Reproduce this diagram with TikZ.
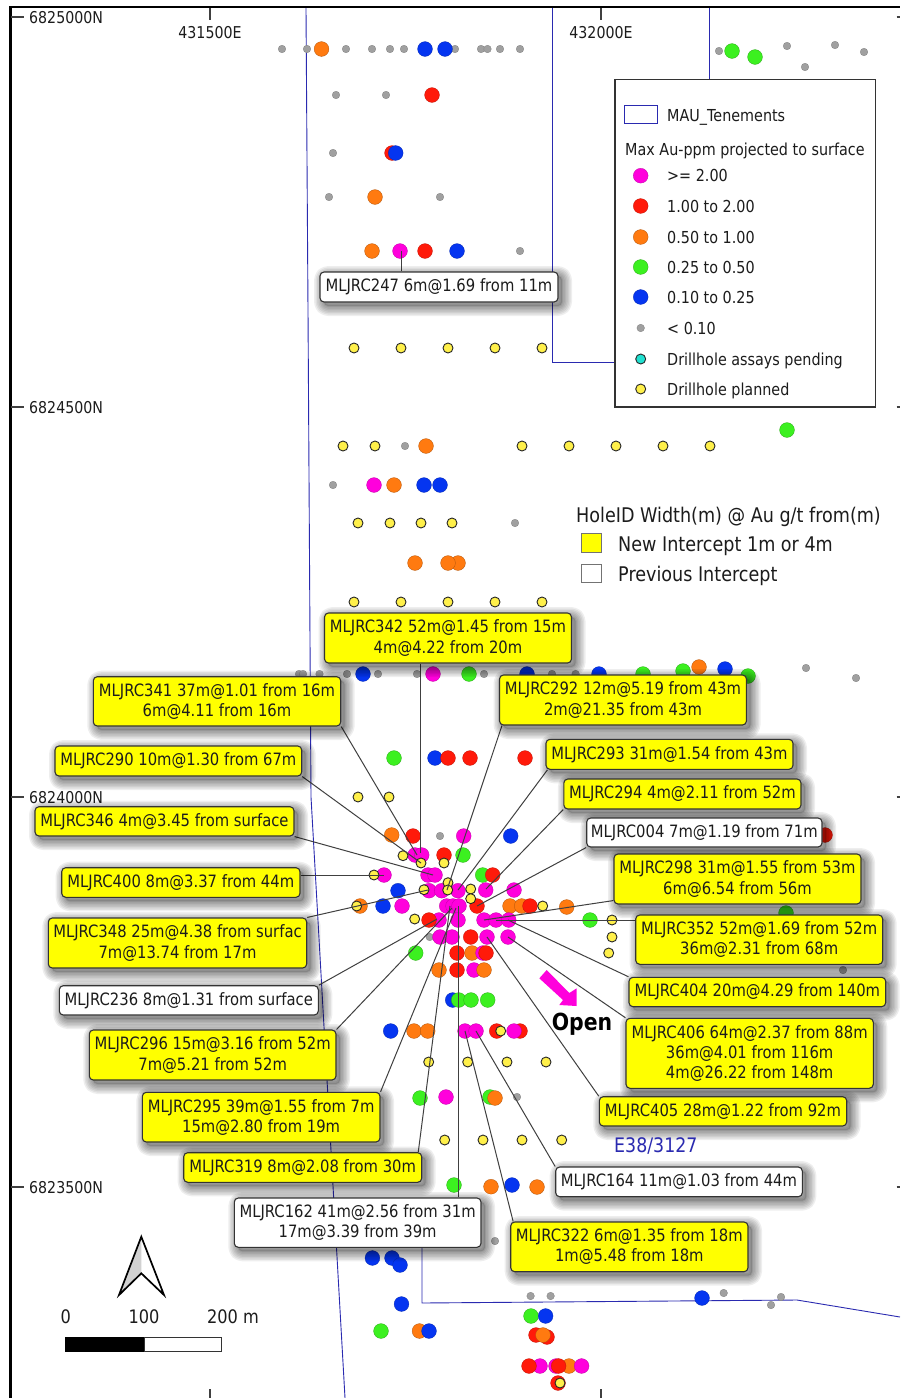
\documentclass[tikz,border=0pt]{standalone}
\usepackage{fontspec}
\setmainfont[FakeStretch=0.87]{DejaVu Sans}
\usetikzlibrary{calc}
\definecolor{cM}{HTML}{FF00DC}
\definecolor{cR}{HTML}{FF1A0A}
\definecolor{cO}{HTML}{FF7A10}
\definecolor{cG}{HTML}{3CF020}
\definecolor{cB}{HTML}{0535F0}
\definecolor{cX}{HTML}{A0A0A0}
\definecolor{cY}{HTML}{FFF04A}
\definecolor{cC}{HTML}{20E0D0}
\definecolor{labY}{HTML}{FFFF00}
\definecolor{tenem}{HTML}{2A2AB0}
\definecolor{ink}{HTML}{1C1C1C}
\pgfdeclarelayer{lab}
\pgfdeclarelayer{over}
\pgfsetlayers{main,lab,over}
\tikzset{
 dM/.style={fill=cM,draw=cM!75!black,line width=.3pt,radius=7.4},
 dR/.style={fill=cR,draw=cR!75!black,line width=.3pt,radius=7.4},
 dO/.style={fill=cO,draw=cO!70!black,line width=.3pt,radius=7.4},
 dG/.style={fill=cG,draw=cG!70!black,line width=.3pt,radius=7.4},
 dB/.style={fill=cB,draw=cB!75!black,line width=.3pt,radius=7.4},
 dX/.style={fill=cX,draw=black!50,line width=.3pt,radius=3.8},
 dY/.style={fill=cY,draw=black!85,line width=.9pt,radius=5},
 dC/.style={fill=cC,draw=black!85,line width=.9pt,radius=5},
 tenline/.style={draw=tenem,line width=.9pt},
 leader/.style={draw=black!75,line width=1pt},
 txt/.style={inner sep=0pt,text=ink,text height=12pt,text depth=0pt,font=\fontsize{16.5}{18}\selectfont},
 coordtxt/.style={txt,font=\fontsize{16.3}{18}\selectfont},
 bigtxt/.style={txt,text height=14.5pt,font=\fontsize{20.2}{22}\selectfont},
 scaletxt/.style={txt,text height=13.5pt,font=\fontsize{18.6}{20}\selectfont},
 tick/.style={draw=black!75,line width=1.3pt},
 frameline/.style={draw=black,line width=2.6pt},
 labbox/.style={draw=black!80,line width=1.1pt,rounded corners=4pt,inner sep=0pt,align=center,text=ink,
   font=\fontsize{17}{20.2}\selectfont},
}
\newcommand{\lab}[7]{%
 \foreach \w in {2,5,8,11,14,17,20}{%
  \draw[black,draw opacity=.065,line width=\w pt,rounded corners=4pt,line join=round]
    (#2+4,#3+4) rectangle (#4+4,#5+4);}
 \fill[black,opacity=.14,rounded corners=4pt] (#2+4,#3+4) rectangle (#4+4,#5+4);
 \pgfmathsetmacro\labw{#4-#2}\pgfmathsetmacro\labh{#5-#3}
 \node[labbox,fill=#6,minimum width=\labw pt,minimum height=\labh pt] (#1) at ({(#2+#4)/2},{(#3+#5)/2}) {#7};
}
\begin{document}
\begin{tikzpicture}[x=1pt,y=-1pt]
\path[use as bounding box,fill=white] (0,0) rectangle (900,1398);
% tenement boundaries
\draw[tenline] (306,8) -- (308,310) -- (310,640) -- (311,797) -- (345,1398);
\draw[tenline] (552,8) -- (552,362) -- (620,362);
\draw[tenline] (709,8) -- (709,85);
\draw[tenline] (422,1240) -- (422,1303) -- (797,1300) -- (900,1317);
% frame & ticks
\draw[frameline] (10.5,1398) -- (10.5,7) -- (900,7);
\foreach \y in {17,407,797,1187}{\draw[tick] (11,\y) -- (24,\y); \draw[tick] (896.5,\y) -- (900,\y);}
\foreach \x in {210,601}{\draw[tick] (\x,8) -- (\x,20); \draw[tick] (\x,1389) -- (\x,1398);}
\node[coordtxt,anchor=west] (n1) at (29,17) {6825000N};
\node[coordtxt,anchor=west] (n2) at (29,407) {6824500N};
\node[coordtxt,anchor=west] (n3) at (29,797) {6824000N};
\node[coordtxt,anchor=west] (n4) at (29,1187) {6823500N};
\node[coordtxt] (e1) at (210,32) {431500E};
\node[coordtxt] (e2) at (601,32) {432000E};
% dots
\foreach \c/\x/\y in {
dX/282/49,dX/307/49,dO/321.5/49,dX/346/49,dX/372/49,dX/390/49,dX/404/49,dX/455/49,dB/425/49,dB/445/49,dX/481/49,dX/487.5/49,dX/500/49,dX/520/49,
dX/336/95,dX/386/95,dR/432/95,
dX/333/153,dR/392/153,dB/395.7/153,
dX/329/197,dO/375/197,dX/440/197,
dO/372/251,dM/400/251,dR/425/251,dB/457/251,dX/520/251,
dX/719/51,dG/732/51,dG/755/57,dX/787/46,dX/835/45,dX/805/67,dX/864/52,
dG/787/430,dX/405/446,dO/426/446,
dX/333/485,dM/374/485,dO/394/485,dB/424/485,dB/440/485,dX/515/523,
dO/415/563,dO/458/563,dO/448/563,
dX/299/674,dX/303/674,dX/319.5/674,dX/347/674,dB/363/674,dX/378/674,dX/417/674,dM/433/674,dG/469/674,dX/484/674,dB/527/674,dX/552/674,dX/575.6/674,dB/599/674,dG/643/674,dG/683/671,dO/699/667,dB/725/669,dG/748/676,dX/806/668,dX/856/678,
dG/394/758,dB/435/758,dR/448/758,dR/470/758,dR/525/758,
dO/391.7/835,dR/413/836,dX/440/836,dM/463.7/836,dB/510.7/836,dR/825/835,
dM/415/855,dM/421.7/855,dR/444/855,dG/463/855,
dM/428/875,dM/435/875,dM/384/875,dG/482.7/875,dR/492.7/875,
dB/398/890.7,dM/429/890.7,dM/441.7/890.7,dM/458/890.7,dM/485.7/890,dM/514/890,
dO/360/906,dB/383/906,dM/402/906,dM/446.7/906,dM/453/906,dM/459/906,dR/477/906,dO/510/906,dO/521.7/906,dR/530/906,dO/566.7/907,
dM/439/920,dR/429/920,dM/458/920,dM/484/920,dM/496/920,dM/508.7/920,dG/590/920,dG/786/913,
dX/429.7/937,dM/440/937,dM/452/937,dR/470.7/937,dM/487/937,dM/508/937,
dG/415.7/953,dR/457/953,dO/472/953,dM/483/953,dR/486/953,dX/843/970,dR/746.7/985,dX/788/985,
dO/439/970,dR/457/970,dM/474/970,dO/484/970,
dB/452.7/1000,dG/458.7/1000,dG/471/1000,dG/487.7/1000,
dB/390.7/1031,dO/414/1031,dO/427.7/1031,dM/465/1031,dM/476/1031,dR/496.7/1031,dR/520/1031,dM/514/1031,
dG/420/1098,dM/446/1097,dG/490/1097,dO/495/1098,dX/517/1097,
dG/454/1185,dO/491/1186.7,dB/512/1185,dO/537/1187,
dX/495/1241,dB/372.4/1258,dB/392/1258,dB/400/1265,dB/401.5/1304,
dX/530.6/1296,dX/550.6/1296,dX/723.7/1293,dB/702/1298,dX/781/1297,dX/771/1305,
dG/531/1316,dB/545.6/1316,dG/381/1331,dO/419.5/1331,dB/429/1331,
dR/536/1335,dR/547/1337,dO/543/1335,
dM/540/1366,dR/529/1366,dM/556/1366,dO/569/1366,dR/558.6/1366,dM/581.6/1366,dR/558/1383,
% planned holes
dY/354/348,dY/401/348,dY/448/348,dY/495/348,dY/542/348,
dY/343/446,dY/375/446,dY/522/446,dY/569/446,dY/616/446,dY/663/446,dY/710/446,
dY/358/523,dY/390/523,dY/421/523,dY/452/523,
dY/354/602,dY/401/602,dY/448/602,dY/495/602,dY/542/602,
dY/358/797,dY/389/797,
dY/403/855.7,dY/421/863,dY/444/863,dY/374/875,dY/424/889.7,dY/448/882.7,dY/447.7/890,dY/470.7/889,dY/470.7/898.7,
dY/356.7/906,dY/542.7/906,dY/414.7/919,dY/612/920,dY/612/937,dY/608.7/953,
dY/500.7/1031,dY/428.7/1062,dY/467.7/1062,dY/507/1062,dY/546/1062,
dY/444.7/1140,dY/483/1140,dY/522/1140,dY/561.7/1140,dY/560/1383
}{\draw[\c] (\x,\y) circle;}
% leader targets
\coordinate (t247) at (401,251);
\coordinate (t342) at (420,853);
\coordinate (t341) at (417,855);
\coordinate (t290) at (421,863);
\coordinate (t346) at (433,875);
\coordinate (t400) at (384,875);
\coordinate (t348) at (428,890);
\coordinate (t236) at (437,919);
\coordinate (t296) at (452,908);
\coordinate (t295) at (456,908);
\coordinate (t319) at (450,906);
\coordinate (t162) at (458,906);
\coordinate (t322) at (465,1031);
\coordinate (t164) at (476,1031);
\coordinate (t405) at (487,937);
\coordinate (t406) at (508,937);
\coordinate (t404) at (508,920);
\coordinate (t352) at (496,920);
\coordinate (t298) at (484,920);
\coordinate (t004) at (477,906);
\coordinate (t294) at (486,889);
\coordinate (t293) at (458,890);
\coordinate (t292) at (447,890);
% labels
\begin{pgfonlayer}{lab}
\lab{L247}{320}{272}{558}{302}{white}{MLJRC247 6m@1.69 from 11m}
\lab{L342}{324.5}{613}{571.5}{663}{labY}{MLJRC342 52m@1.45 from 15m\\4m@4.22 from 20m}
\lab{L292}{499.5}{675}{746.5}{725}{labY}{MLJRC292 12m@5.19 from 43m\\2m@21.35 from 43m}
\lab{L341}{93.3}{676.7}{340.7}{726}{labY}{MLJRC341 37m@1.01 from 16m\\6m@4.11 from 16m}
\lab{L293}{546}{739.3}{793}{769.3}{labY}{MLJRC293 31m@1.54 from 43m}
\lab{L290}{55}{746}{301.7}{776}{labY}{MLJRC290 10m@1.30 from 67m}
\lab{L294}{563.8}{779}{801}{809}{labY}{MLJRC294 4m@2.11 from 52m}
\lab{L346}{35}{806.7}{294}{836}{labY}{MLJRC346 4m@3.45 from surface}
\lab{L004}{586.7}{818}{822}{847}{white}{MLJRC004 7m@1.19 from 71m}
\lab{L298}{614}{854}{861}{904}{labY}{MLJRC298 31m@1.55 from 53m\\6m@6.54 from 56m}
\lab{L400}{61.7}{867.7}{300}{897.3}{labY}{MLJRC400 8m@3.37 from 44m}
\lab{L352}{635.7}{915}{882.7}{964.3}{labY}{MLJRC352 52m@1.69 from 52m\\36m@2.31 from 68m}
\lab{L348}{48.3}{918}{306.7}{968}{labY}{MLJRC348 25m@4.38 from surfac\\7m@13.74 from 17m}
\lab{L404}{629}{977.3}{885.7}{1006.7}{labY}{MLJRC404 20m@4.29 from 140m}
\lab{L236}{59.3}{985.7}{318.3}{1015}{white}{MLJRC236 8m@1.31 from surface}
\lab{L406}{626}{1018.3}{873.3}{1088.3}{labY}{MLJRC406 64m@2.37 from 88m\\36m@4.01 from 116m\\4m@26.22 from 148m}
\lab{L296}{89.3}{1030}{336}{1080}{labY}{MLJRC296 15m@3.16 from 52m\\7m@5.21 from 52m}
\lab{L295}{142.3}{1092.3}{380}{1142}{labY}{MLJRC295 39m@1.55 from 7m\\15m@2.80 from 19m}
\lab{L405}{599.3}{1096.7}{846.7}{1126}{labY}{MLJRC405 28m@1.22 from 92m}
\lab{L319}{183.7}{1152.7}{421.7}{1182.3}{labY}{MLJRC319 8m@2.08 from 30m}
\lab{L164}{555.7}{1167}{802.3}{1196.7}{white}{MLJRC164 11m@1.03 from 44m}
\lab{L162}{234.3}{1198}{481}{1247.3}{white}{MLJRC162 41m@2.56 from 31m\\17m@3.39 from 39m}
\lab{L322}{510.7}{1222}{748}{1271.7}{labY}{MLJRC322 6m@1.35 from 18m\\1m@5.48 from 18m}
\end{pgfonlayer}
% leaders
\draw[leader] (t247 |- L247.north) -- (t247);
\draw[leader] (t342 |- L342.south) -- (t342);
\draw[leader] (L341.south east) -- (t341);
\draw[leader] (L290.south east) -- (t290);
\draw[leader] (L346.south east) -- (t346);
\draw[leader] (t400 -| L400.east) -- (t400);
\draw[leader] (L348.north east) -- (t348);
\draw[leader] (L236.north east) -- (t236);
\draw[leader] (L296.north east) -- (t296);
\draw[leader] (L295.north east) -- (t295);
\draw[leader] ([xshift=-4pt]L319.north east) -- (t319);
\draw[leader] (t162 |- L162.north) -- (t162);
\draw[leader] ([xshift=3pt]L322.north west) -- (t322);
\draw[leader] (L164.north west) -- (t164);
\draw[leader] (L405.north west) -- (t405);
\draw[leader] (L406.north west) -- (t406);
\draw[leader] (L404.north west) -- (t404);
\draw[leader] (t352 -| L352.west) -- (t352);
\draw[leader] ([yshift=4pt]L298.south west) -- (t298);
\draw[leader] (L004.south west) -- (t004);
\draw[leader] (L294.south west) -- (t294);
\draw[leader] ([xshift=2pt]L293.south west) -- (t293);
\draw[leader] ([xshift=3pt]L292.south west) -- (t292);
% overlay
\begin{pgfonlayer}{over}
% legend
\node[draw=black!80,line width=1.4pt,fill=white,minimum width=260.7pt,minimum height=327.7pt,inner sep=0pt] (legend) at (745.4,243.2) {};
\node[draw=tenem,line width=1pt,minimum width=33pt,minimum height=18.7pt,inner sep=0pt] (tenbox) at (640.5,114.4) {};
\node[txt,anchor=west] (lt) at (667,115) {MAU\_Tenements};
\node[txt,anchor=west] (lh) at (625,149) {Max Au-ppm projected to surface};
\foreach \n/\c/\y/\t in {a/dM/175.7/{>= 2.00},b/dR/206/{1.00 to 2.00},c/dO/237/{0.50 to 1.00},d/dG/267/{0.25 to 0.50},e/dB/297/{0.10 to 0.25},f/dX/328/{< 0.10},g/dC/359/{Drillhole assays pending},h/dY/389/{Drillhole planned}}{
 \draw[\c] (640.7,\y) circle;
 \node[txt,anchor=west] (leg\n) at (667,\y) {\t};
}
% intercept key
\node[bigtxt,anchor=west] (hk) at (576,515) {HoleID Width(m) @ Au g/t from(m)};
\node[draw=black!55,line width=.9pt,fill=labY,minimum width=19.6pt,minimum height=18.5pt,inner sep=0pt] (ky) at (591.5,543) {};
\node[draw=black!55,line width=.9pt,fill=white,minimum width=19.6pt,minimum height=18.5pt,inner sep=0pt] (kw) at (591.5,573.5) {};
\node[bigtxt,anchor=west] (ky2) at (618,544) {New Intercept 1m or 4m};
\node[bigtxt,anchor=west] (kw2) at (618,574) {Previous Intercept};
% open arrow
\fill[cM] (539.3,978.3) -- (546.7,970) -- (569.3,993) -- (576.7,988.3) -- (576.7,1006) -- (559.3,1005) -- (563,1000) -- cycle;
\node[txt,text height=17pt,font=\bfseries\fontsize{23.5}{26}\selectfont,text=black] (open) at (582,1022) {Open};
\node[txt,text height=14.5pt,text=tenem,font=\fontsize{20}{22}\selectfont,anchor=west] (ten) at (614,1145) {E38/3127};
% north arrow
\fill[black!18] (141.3,1236.7) -- (119,1295) -- (141.3,1273.3) -- cycle;
\draw[black,line width=1.7pt,line join=miter] (141.3,1236.7) -- (119,1295) -- (141.3,1273.3) -- (164,1295) -- cycle;
% scale
\node[scaletxt] (s0) at (65.7,1316.7) {0};
\node[scaletxt] (s1) at (144,1316.7) {100};
\node[scaletxt] (s2) at (233,1316.7) {200 m};
\fill[black] (65,1337.3) rectangle (144,1351.7);
\draw[black!80,line width=.9pt,fill=white] (144,1337.3) rectangle (221.7,1351.7);
\end{pgfonlayer}
\end{tikzpicture}
\end{document}
